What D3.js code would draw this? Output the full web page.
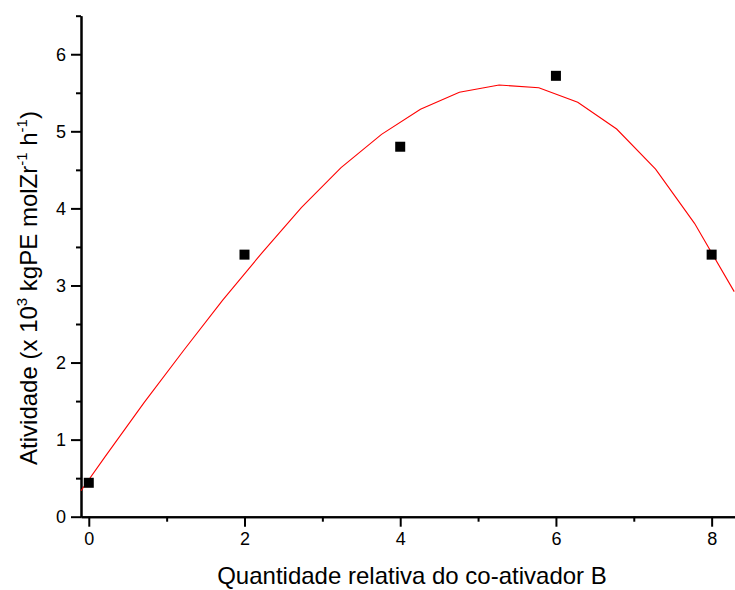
<!DOCTYPE html>
<html>
<head>
<meta charset="utf-8">
<script src="https://cdn.jsdelivr.net/npm/d3@7"></script>
<style>
  html, body { margin: 0; padding: 0; background: #fff; }
  svg { display: block; }
  text { font-family: "Liberation Sans", Arial, sans-serif; fill: #000; }
</style>
</head>
<body>
<svg id="chart" width="735" height="590"></svg>
<script>
// Measured activity for each relative amount of co-activator B
const quantidade = [0, 2, 4, 6, 8];
const atividade = [0.44, 3.40, 4.80, 5.72, 3.40];

// Fitted curve vertices
const fitX = [-0.1, 0.21, 0.71, 1.22, 1.72, 2.23, 2.73, 3.24, 3.76, 4.26, 4.76, 5.27, 5.78, 6.28, 6.78, 7.28, 7.78, 8.29];
const fitY = [0.337, 0.78, 1.48, 2.16, 2.81, 3.43, 4.01, 4.53, 4.96, 5.285, 5.506, 5.60, 5.566, 5.376, 5.03, 4.51, 3.806, 2.92];

// Axis ticks
const xMajorTicks = [0, 2, 4, 6, 8];
const xMinorTicks = [1, 3, 5, 7];
const yMajorTicks = [0, 1, 2, 3, 4, 5, 6];
const yMinorTicks = [0.5, 1.5, 2.5, 3.5, 4.5, 5.5, 6.5];

const svg = d3.select("#chart");

const x = d3.scaleLinear().domain([-0.1, 8.3]).range([81, 735]);
const y = d3.scaleLinear().domain([0, 6.5]).range([516.7, 15.7]);

const axisY0 = y(0);
const axisX0 = x(-0.1);

function styleAxis(g) {
  g.select(".domain").attr("stroke", "#000").attr("stroke-width", 2);
  g.selectAll(".tick line").attr("stroke", "#000").attr("stroke-width", 2);
  g.selectAll(".tick text").style("font-size", "18px").attr("fill", "#000");
}

// x axis: major and minor ticks
svg.append("g")
  .attr("transform", `translate(0,${axisY0})`)
  .call(d3.axisBottom(x).tickValues(xMinorTicks).tickSize(5).tickSizeOuter(0).tickFormat(""))
  .call(styleAxis);
svg.append("g")
  .attr("transform", `translate(0,${axisY0})`)
  .call(d3.axisBottom(x).tickValues(xMajorTicks).tickSize(10).tickSizeOuter(0).tickPadding(6).tickFormat(d3.format("d")))
  .call(styleAxis);

// y axis: major and minor ticks
svg.append("g")
  .attr("transform", `translate(${axisX0},0)`)
  .call(d3.axisLeft(y).tickValues(yMinorTicks).tickSize(5).tickSizeOuter(0).tickFormat(""))
  .call(styleAxis);
svg.append("g")
  .attr("transform", `translate(${axisX0},0)`)
  .call(d3.axisLeft(y).tickValues(yMajorTicks).tickSize(10).tickSizeOuter(0).tickPadding(5).tickFormat(d3.format("d")))
  .call(styleAxis);

// Fitted curve
const fitPoints = fitX.map((v, i) => [v, fitY[i]]);
svg.append("path")
  .datum(fitPoints)
  .attr("fill", "none")
  .attr("stroke", "#ff0000")
  .attr("stroke-width", 1.1)
  .attr("d", d3.line().x(d => x(d[0])).y(d => y(d[1])));

// Square markers
const size = 10;
svg.append("g")
  .selectAll("rect")
  .data(quantidade.map((q, i) => ({ q, a: atividade[i] })))
  .join("rect")
  .attr("x", d => x(d.q) - size / 2)
  .attr("y", d => y(d.a) - size / 2)
  .attr("width", size)
  .attr("height", size)
  .attr("fill", "#000");

// Axis titles
svg.append("text")
  .attr("x", 412)
  .attr("y", 584)
  .attr("text-anchor", "middle")
  .style("font-size", "24px")
  .text("Quantidade relativa do co-ativador B");

const yTitle = svg.append("text")
  .attr("transform", "translate(37,288) rotate(-90)")
  .attr("text-anchor", "middle")
  .style("font-size", "24px");
yTitle.append("tspan").text("Atividade (x 10");
yTitle.append("tspan").attr("dy", -10).style("font-size", "15px").text("3");
yTitle.append("tspan").attr("dy", 10).text(" kgPE molZr");
yTitle.append("tspan").attr("dy", -10).style("font-size", "15px").text("-1");
yTitle.append("tspan").attr("dy", 10).text(" h");
yTitle.append("tspan").attr("dy", -10).style("font-size", "15px").text("-1");
yTitle.append("tspan").attr("dy", 10).text(")");
</script>
</body>
</html>
